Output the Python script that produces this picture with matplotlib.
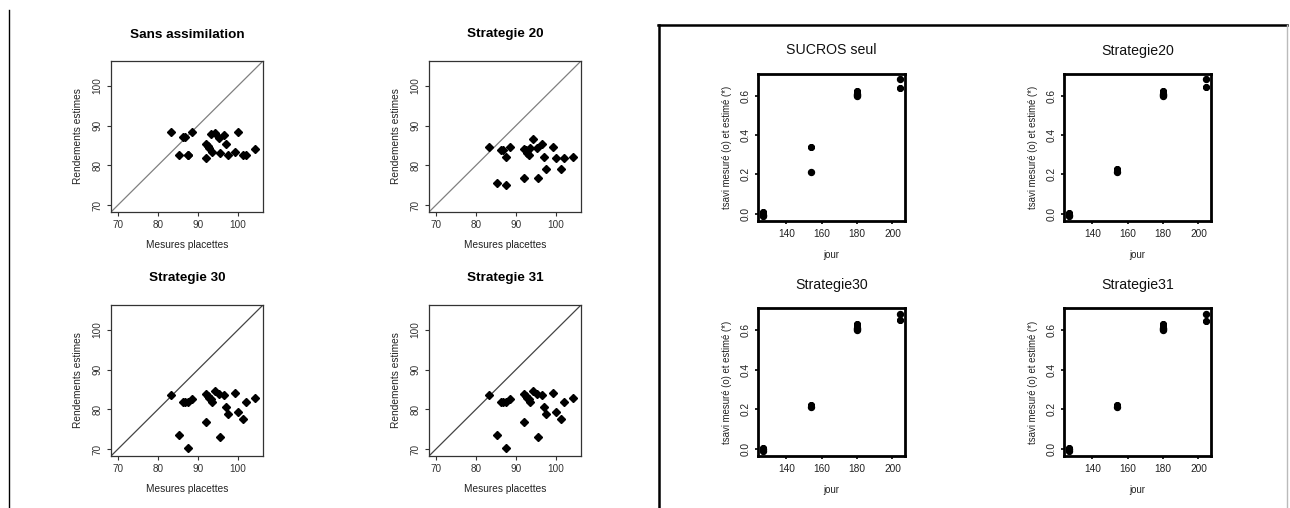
import matplotlib
matplotlib.use("Agg")
import matplotlib.pyplot as plt
from matplotlib.lines import Line2D

plt.rcParams['font.family'] = ['Liberation Sans', 'DejaVu Sans']

# ---------------- data: yield panels ----------------
mesures = [83.3, 85.3, 86.2, 86.8, 87.4, 87.5, 88.6, 91.9, 92.0, 92.4, 92.8, 93.2,
           93.4, 94.2, 95.2, 95.4, 96.5, 96.9, 97.5, 99.2, 99.9, 101.2, 101.9, 104.1]
est_sans = [88.4, 82.6, 87.1, 87.1, 82.6, 82.6, 88.3, 81.9, 85.3, 84.8, 84.3, 87.85,
            83.3, 88.1, 86.9, 83.1, 87.6, 85.4, 82.6, 83.3, 88.4, 82.6, 82.6, 84.1]
est_s20 = [84.7, 75.5, 83.8, 83.8, 82.1, 75.2, 84.7, 76.9, 84.0, 83.8, 83.2, 82.6,
           84.3, 86.6, 84.3, 76.9, 85.4, 82.1, 79.2, 84.7, 81.9, 79.2, 81.9, 82.1]
est_s30 = [83.6, 73.5, 81.9, 81.9, 81.9, 70.3, 82.6, 76.8, 83.8, 83.4, 82.9, 82.5,
           81.95, 84.6, 83.85, 73.0, 83.6, 80.7, 78.9, 84.2, 79.3, 77.5, 81.9, 82.9]
est_s31 = [83.6, 73.5, 81.9, 81.9, 81.9, 70.3, 82.6, 76.8, 83.8, 83.4, 82.9, 82.5,
           81.95, 84.6, 83.85, 73.0, 83.6, 80.7, 78.9, 84.2, 79.3, 77.5, 81.9, 82.9]
yield_titles = ["Sans assimilation", "Strategie 20", "Strategie 30", "Strategie 31"]
yield_ticks = [70, 80, 90, 100]

# ---------------- data: tsavi panels ----------------
jour_mes = [127, 127, 154, 180, 180, 180, 204]
tsavi_mes = [-0.012, -0.005, 0.21, 0.60, 0.605, 0.61, 0.685]
jour_est_sucros = [127, 127, 154, 180, 180, 204]
tsavi_est_sucros = [0.0, 0.007, 0.341, 0.617, 0.627, 0.644]
jour_est = [127, 127, 154, 154, 180, 180, 204]
tsavi_est_s20 = [-0.003, 0.003, 0.215, 0.228, 0.615, 0.625, 0.645]
tsavi_est_s30 = [0.0, 0.005, 0.215, 0.222, 0.62, 0.632, 0.65]
tsavi_est_s31 = [-0.002, 0.004, 0.214, 0.222, 0.618, 0.63, 0.648]
tsavi_titles = ["SUCROS seul", "Strategie20", "Strategie30", "Strategie31"]
jour_ticks = [140, 160, 180, 200]
tsavi_ticks = [0.0, 0.2, 0.4, 0.6]

W, H = 1290, 508
fig = plt.figure(figsize=(W / 100, H / 100), dpi=100)

def ax_px(x0, y0, x1, y1):
    return fig.add_axes([x0 / W, 1 - y1 / H, (x1 - x0) / W, (y1 - y0) / H])

# ---------- left frame line ----------
fig.add_artist(Line2D([8.5 / W, 8.5 / W], [0, 1 - 10 / H], color='black', lw=1.0,
                      transform=fig.transFigure))

# ---------- yield panels ----------
yield_boxes = [(111, 61, 263, 212), (429, 61, 581, 212),
               (111, 305, 263, 456), (429, 305, 581, 456)]
yield_data = [est_sans, est_s20, est_s30, est_s31]
diag_cols = ['#808080', '#808080', '#444444', '#444444']
lim = (68.3, 106.2)
for box, est, title, dc in zip(yield_boxes, yield_data, yield_titles, diag_cols):
    ax = ax_px(*box)
    ax.plot(lim, lim, color=dc, lw=0.9, zorder=1)
    ax.plot(mesures, est, linestyle='none', marker='D', markersize=3.6,
            color='black', zorder=2)
    ax.set_xlim(lim)
    ax.set_ylim(lim)
    ax.set_xticks(yield_ticks)
    ax.set_yticks(yield_ticks)
    ax.set_xticklabels([str(t) for t in yield_ticks], fontsize=7.2, color='#222222')
    ax.set_yticklabels([str(t) for t in yield_ticks], fontsize=7.2, color='#222222',
                       rotation=90, va='center')
    ax.tick_params(direction='out', length=3, width=0.8, pad=3, colors='#333333')
    for s in ax.spines.values():
        s.set_linewidth(0.9)
        s.set_color('#333333')
    ax.set_xlabel("Mesures placettes", fontsize=7.3, color='#222222', labelpad=7)
    ax.set_ylabel("Rendements estimes", fontsize=7.3, color='#222222', labelpad=7)
    cx = (box[0] + box[2]) / 2
    fig.text(cx / W, 1 - (box[1] - 26.5) / H, title, fontsize=9.7, fontweight='bold',
             ha='center', va='center')

# ---------- right frame ----------
fig.add_artist(Line2D([659 / W, 659 / W], [0, 1 - 25 / H], color='black', lw=1.8,
                      transform=fig.transFigure))
fig.add_artist(Line2D([658 / W, 1287 / W], [1 - 25 / H, 1 - 25 / H], color='black',
                      lw=1.8, transform=fig.transFigure))
fig.add_artist(Line2D([1287 / W, 1287 / W], [0, 1 - 25 / H], color='#bbbbbb', lw=1.0,
                      transform=fig.transFigure))

# ---------- tsavi panels ----------
tsavi_boxes = [(758, 74, 905, 221), (1064, 74, 1211, 221),
               (758, 308, 905, 456), (1064, 308, 1211, 456)]
tsavi_est = [(jour_est_sucros, tsavi_est_sucros), (jour_est, tsavi_est_s20),
             (jour_est, tsavi_est_s30), (jour_est, tsavi_est_s31)]
for box, (je, te), title in zip(tsavi_boxes, tsavi_est, tsavi_titles):
    ax = ax_px(*box)
    ax.plot(jour_mes, tsavi_mes, linestyle='none', marker='o', markersize=4.3,
            color='black')
    ax.plot(je, te, linestyle='none', marker=(8, 2, 0), markersize=4.8,
            markeredgewidth=1.8, color='black')
    ax.set_xlim(123.9, 207.1)
    ax.set_ylim(-0.038, 0.713)
    ax.set_xticks(jour_ticks)
    ax.set_yticks(tsavi_ticks)
    ax.set_xticklabels([str(t) for t in jour_ticks], fontsize=7.3, color='#222222')
    ax.set_yticklabels(["%.1f" % t for t in tsavi_ticks], fontsize=7.3,
                       color='#222222', rotation=90, va='center')
    ax.tick_params(direction='out', length=2.5, width=1.2, pad=3)
    for s in ax.spines.values():
        s.set_linewidth(2.0)
        s.set_color('black')
    ax.set_xlabel("jour", fontsize=6.9, color='#222222', labelpad=8)
    ax.set_ylabel("tsavi mesuré (o) et estimé (*)", fontsize=6.9, color='#222222',
                  labelpad=6)
    cx = (box[0] + box[2]) / 2
    fig.text(cx / W, 1 - (box[1] - 23.5) / H, title, fontsize=10.2,
             ha='center', va='center', color='#111111')

fig.savefig("out.png", dpi=100)
